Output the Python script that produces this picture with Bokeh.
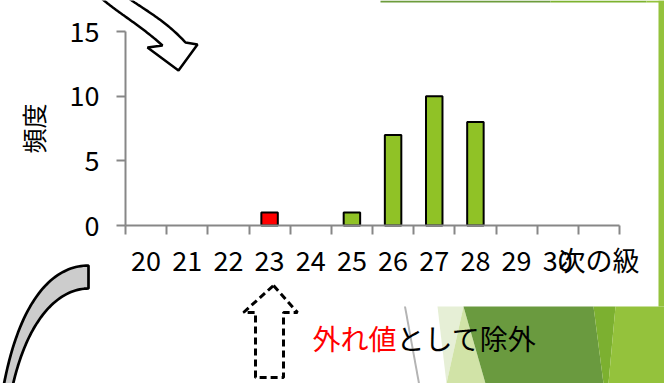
import numpy as np
from bokeh.plotting import figure
from bokeh.models import ColumnDataSource, Range1d, FixedTicker, PolyAnnotation, Label
from bokeh.embed import file_html
from bokeh.resources import INLINE

# ---- data ----
categories = ["20", "21", "22", "23", "24", "25", "26", "27", "28", "29", "30", "次の級"]
frequencies = [0, 0, 0, 1, 0, 1, 7, 10, 8, 0, 0, 0]
y_ticks = [0, 5, 10, 15]
outlier_category = "23"
y_label = "頻度"
note_red = "外れ値"
note_black = "として除外"

# ---- layout (pixels) ----
W, H = 664, 383
FL, FR, FT, FB = 125, 619, 31, 225     # chart area in page pixels
FONT = "Noto Sans CJK JP"
AXIS_GRAY = "#878787"
GREEN = "#90c226"

n = len(categories)
ymax = max(y_ticks)
sx = (FR - FL) / n
sy = (FB - FT) / ymax
centers = np.arange(n) + 0.5
keep = [i for i, v in enumerate(frequencies) if v > 0]
source = ColumnDataSource(dict(
    x=[centers[i] for i in keep],
    top=[frequencies[i] for i in keep],
    color=["#ff0000" if categories[i] == outlier_category else GREEN for i in keep],
))

# the frame fills the whole page so the slide decorations can be drawn too
p = figure(width=W, height=H, output_backend="svg", toolbar_location=None,
           x_range=Range1d(-FL / sx, (W - FL) / sx),
           y_range=Range1d(-(H - FB) / sy, FB / sy),
           background_fill_color="white", border_fill_color="white",
           outline_line_color=None, min_border=0)
p.grid.visible = False

p.vbar(x="x", top="top", width=0.4, source=source, fill_color="color",
       line_color="black", line_width=2)

# x axis: labels at category centres, ticks at boundaries
xa = p.xaxis[0]
xa.fixed_location = 0
xa.bounds = (0, n)
xa.ticker = FixedTicker(ticks=list(centers), minor_ticks=list(range(n + 1)))
xa.major_label_overrides = {float(c): cat for c, cat in zip(centers, categories)}
xa.major_tick_line_color = None
xa.major_tick_out = 0
xa.major_tick_in = 0
xa.minor_tick_out = 9
xa.minor_tick_in = 0
xa.minor_tick_line_color = AXIS_GRAY
xa.minor_tick_line_width = 2
xa.axis_line_color = AXIS_GRAY
xa.axis_line_width = 2
xa.major_label_text_font = FONT
xa.major_label_text_font_size = "27px"
xa.major_label_text_color = "black"
xa.major_label_standoff = 5

ya = p.yaxis[0]
ya.fixed_location = 0
ya.bounds = (0, ymax)
ya.ticker = FixedTicker(ticks=y_ticks)
ya.major_tick_out = 9
ya.major_tick_in = 0
ya.minor_tick_line_color = None
ya.major_tick_line_color = AXIS_GRAY
ya.major_tick_line_width = 2
ya.axis_line_color = AXIS_GRAY
ya.axis_line_width = 2
ya.major_label_text_font = FONT
ya.major_label_text_font_size = "27px"
ya.major_label_text_color = "black"
ya.major_label_standoff = 17
ya.axis_label = y_label
ya.axis_label_text_font = FONT
ya.axis_label_text_font_size = "25px"
ya.axis_label_text_font_style = "normal"
ya.axis_label_text_color = "black"
ya.axis_label_standoff = 16


# decorations are given in page pixels and converted into the plot's data space
def dx(px):
    return (np.asarray(px, dtype=float) - FL) / sx


def dy(py):
    return (FB - np.asarray(py, dtype=float)) / sy


def poly(xs, ys, fill, line=None, lw=0, dash="solid", level="underlay", falpha=1.0):
    a = PolyAnnotation(xs=list(dx(xs)), ys=list(dy(ys)), xs_units="data", ys_units="data",
                       fill_color=fill, fill_alpha=falpha,
                       line_color=line if line else "black", line_alpha=1.0 if line else 0.0,
                       line_width=lw, line_dash=dash, level=level)
    p.add_layout(a)


def bez(p0, c1, c2, p3, k=40):
    t = np.linspace(0, 1, k)[:, None]
    pts = ((1 - t) ** 3) * np.array(p0) + 3 * ((1 - t) ** 2) * t * np.array(c1) \
        + 3 * (1 - t) * t ** 2 * np.array(c2) + t ** 3 * np.array(p3)
    return pts[:, 0], pts[:, 1]


# slide decorations
poly([658, 664, 664, 658], [0, 0, 306, 306], "#94c23c")
poly([380, 550, 550, 380], [0, 0, 2, 2], "#6d9c3c")
poly([550, 646, 646, 550], [0, 0, 2, 2], "#7db22f")
poly([646, 664, 664, 646], [0, 0, 2, 2], "#94c23c")
poly([437, 463, 446], [306, 306, 383], "#e6efd6")
poly([446, 463, 485], [383, 306, 383], "#d1e3a7")
poly([463, 593, 603, 485], [306, 306, 383, 383], "#6a9a3f")
poly([593, 615, 608, 603], [306, 306, 383, 383], "#7cb030")
poly([615, 664, 664, 608], [306, 306, 383, 383], "#94c23c")
poly([403.5, 405.5, 419.5, 417.5], [306, 306, 383, 383], "#b4b4b4")

# top-left curved arrow (white with black outline)
ux, uy = bez((127, -3), (142, 8), (165, 20), (185, 42))
lx, ly = bez((100, -3), (117, 12), (140, 25), (162, 45))
axs = list(lx) + [147, 178, 197] + list(ux[::-1])
ays = list(ly) + [47, 70, 44] + list(uy[::-1])
poly(axs, ays, "white", "black", 2.5, level="annotation")

# bottom-left curved arrow (grey)
ox, oy = bez((88, 265), (55, 265), (20, 295), (3, 386))
ix, iy = bez((88, 288), (60, 288), (28, 315), (12, 386))
poly(list(ox) + list(ix[::-1]), list(oy) + list(iy[::-1]), "#cccccc", "black", 2.7,
     level="annotation")

# dashed up arrow
poly([273, 297, 283, 283, 255, 255, 243], [285, 312, 312, 377, 377, 312, 312],
     "white", "black", 3, dash="7 4", level="annotation", falpha=0.0)

# note text
for txt, x0, col in [(note_red, 312, "#ff0000"), (note_black, 312 + 28 * len(note_red), "black")]:
    p.add_layout(Label(x=float(dx(x0)), y=float(dy(337)), text=txt,
                       text_color=col, text_font=FONT, text_font_size="28px",
                       text_baseline="middle", text_align="left"))

open("out.html", "w").write(file_html(p, INLINE))
